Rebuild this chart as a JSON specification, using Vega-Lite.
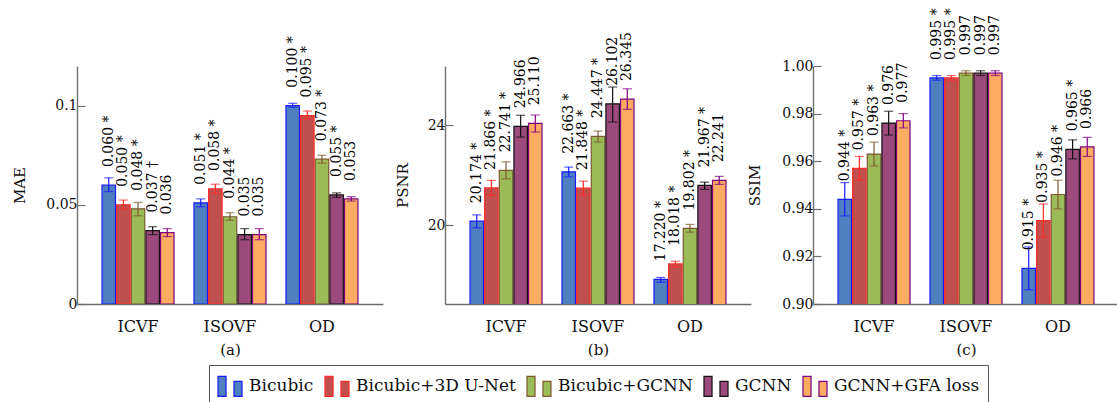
{
  "$schema": "https://vega.github.io/schema/vega-lite/v6.json",
  "background": "white",
  "padding": {"left": 12, "top": 8, "right": 0, "bottom": 0},
  "bounds": "flush",
  "spacing": 62,
  "datasets": {
    "rows": [
      {"metric": "MAE", "region": "ICVF", "method": "Bicubic", "value": 0.060, "lo": 0.0567, "hi": 0.0636, "label": "0.060 *"},
      {"metric": "MAE", "region": "ICVF", "method": "Bicubic+3D U-Net", "value": 0.050, "lo": 0.0478, "hi": 0.0524, "label": "0.050 *"},
      {"metric": "MAE", "region": "ICVF", "method": "Bicubic+GCNN", "value": 0.048, "lo": 0.0445, "hi": 0.0512, "label": "0.048 *"},
      {"metric": "MAE", "region": "ICVF", "method": "GCNN", "value": 0.037, "lo": 0.035, "hi": 0.039, "label": "0.037 †"},
      {"metric": "MAE", "region": "ICVF", "method": "GCNN+GFA loss", "value": 0.036, "lo": 0.034, "hi": 0.038, "label": "0.036"},
      {"metric": "MAE", "region": "ISOVF", "method": "Bicubic", "value": 0.051, "lo": 0.049, "hi": 0.053, "label": "0.051 *"},
      {"metric": "MAE", "region": "ISOVF", "method": "Bicubic+3D U-Net", "value": 0.058, "lo": 0.0558, "hi": 0.0604, "label": "0.058 *"},
      {"metric": "MAE", "region": "ISOVF", "method": "Bicubic+GCNN", "value": 0.044, "lo": 0.0422, "hi": 0.046, "label": "0.044 *"},
      {"metric": "MAE", "region": "ISOVF", "method": "GCNN", "value": 0.035, "lo": 0.0324, "hi": 0.038, "label": "0.035"},
      {"metric": "MAE", "region": "ISOVF", "method": "GCNN+GFA loss", "value": 0.035, "lo": 0.0324, "hi": 0.038, "label": "0.035"},
      {"metric": "MAE", "region": "OD", "method": "Bicubic", "value": 0.100, "lo": 0.0992, "hi": 0.1012, "label": "0.100 *"},
      {"metric": "MAE", "region": "OD", "method": "Bicubic+3D U-Net", "value": 0.095, "lo": 0.0934, "hi": 0.0973, "label": "0.095 *"},
      {"metric": "MAE", "region": "OD", "method": "Bicubic+GCNN", "value": 0.073, "lo": 0.071, "hi": 0.075, "label": "0.073 *"},
      {"metric": "MAE", "region": "OD", "method": "GCNN", "value": 0.055, "lo": 0.0538, "hi": 0.056, "label": "0.055 *"},
      {"metric": "MAE", "region": "OD", "method": "GCNN+GFA loss", "value": 0.053, "lo": 0.0519, "hi": 0.0541, "label": "0.053"},
      {"metric": "PSNR", "region": "ICVF", "method": "Bicubic", "value": 20.16, "lo": 19.89, "hi": 20.41, "label": "20.174 *"},
      {"metric": "PSNR", "region": "ICVF", "method": "Bicubic+3D U-Net", "value": 21.49, "lo": 21.19, "hi": 21.79, "label": "21.866 *"},
      {"metric": "PSNR", "region": "ICVF", "method": "Bicubic+GCNN", "value": 22.19, "lo": 21.85, "hi": 22.53, "label": "22.741 *"},
      {"metric": "PSNR", "region": "ICVF", "method": "GCNN", "value": 23.95, "lo": 23.52, "hi": 24.39, "label": "24.966"},
      {"metric": "PSNR", "region": "ICVF", "method": "GCNN+GFA loss", "value": 24.07, "lo": 23.72, "hi": 24.40, "label": "25.110"},
      {"metric": "PSNR", "region": "ISOVF", "method": "Bicubic", "value": 22.13, "lo": 21.93, "hi": 22.32, "label": "22.663 *"},
      {"metric": "PSNR", "region": "ISOVF", "method": "Bicubic+3D U-Net", "value": 21.48, "lo": 21.19, "hi": 21.76, "label": "21.848 *"},
      {"metric": "PSNR", "region": "ISOVF", "method": "Bicubic+GCNN", "value": 23.55, "lo": 23.32, "hi": 23.76, "label": "24.447 *"},
      {"metric": "PSNR", "region": "ISOVF", "method": "GCNN", "value": 24.85, "lo": 24.12, "hi": 25.52, "label": "26.102"},
      {"metric": "PSNR", "region": "ISOVF", "method": "GCNN+GFA loss", "value": 25.04, "lo": 24.63, "hi": 25.45, "label": "26.345"},
      {"metric": "PSNR", "region": "OD", "method": "Bicubic", "value": 17.83, "lo": 17.72, "hi": 17.91, "label": "17.220 *"},
      {"metric": "PSNR", "region": "OD", "method": "Bicubic+3D U-Net", "value": 18.45, "lo": 18.33, "hi": 18.56, "label": "18.018 *"},
      {"metric": "PSNR", "region": "OD", "method": "Bicubic+GCNN", "value": 19.87, "lo": 19.72, "hi": 20.03, "label": "19.802 *"},
      {"metric": "PSNR", "region": "OD", "method": "GCNN", "value": 21.59, "lo": 21.43, "hi": 21.72, "label": "21.967 *"},
      {"metric": "PSNR", "region": "OD", "method": "GCNN+GFA loss", "value": 21.79, "lo": 21.63, "hi": 21.95, "label": "22.241"},
      {"metric": "SSIM", "region": "ICVF", "method": "Bicubic", "value": 0.944, "lo": 0.937, "hi": 0.951, "label": "0.944 *"},
      {"metric": "SSIM", "region": "ICVF", "method": "Bicubic+3D U-Net", "value": 0.957, "lo": 0.952, "hi": 0.962, "label": "0.957 *"},
      {"metric": "SSIM", "region": "ICVF", "method": "Bicubic+GCNN", "value": 0.963, "lo": 0.958, "hi": 0.968, "label": "0.963 *"},
      {"metric": "SSIM", "region": "ICVF", "method": "GCNN", "value": 0.976, "lo": 0.971, "hi": 0.981, "label": "0.976"},
      {"metric": "SSIM", "region": "ICVF", "method": "GCNN+GFA loss", "value": 0.977, "lo": 0.974, "hi": 0.980, "label": "0.977"},
      {"metric": "SSIM", "region": "ISOVF", "method": "Bicubic", "value": 0.995, "lo": 0.994, "hi": 0.996, "label": "0.995 *"},
      {"metric": "SSIM", "region": "ISOVF", "method": "Bicubic+3D U-Net", "value": 0.995, "lo": 0.994, "hi": 0.996, "label": "0.995 *"},
      {"metric": "SSIM", "region": "ISOVF", "method": "Bicubic+GCNN", "value": 0.997, "lo": 0.996, "hi": 0.998, "label": "0.997"},
      {"metric": "SSIM", "region": "ISOVF", "method": "GCNN", "value": 0.997, "lo": 0.996, "hi": 0.998, "label": "0.997"},
      {"metric": "SSIM", "region": "ISOVF", "method": "GCNN+GFA loss", "value": 0.997, "lo": 0.996, "hi": 0.998, "label": "0.997"},
      {"metric": "SSIM", "region": "OD", "method": "Bicubic", "value": 0.915, "lo": 0.906, "hi": 0.924, "label": "0.915 *"},
      {"metric": "SSIM", "region": "OD", "method": "Bicubic+3D U-Net", "value": 0.935, "lo": 0.928, "hi": 0.942, "label": "0.935 *"},
      {"metric": "SSIM", "region": "OD", "method": "Bicubic+GCNN", "value": 0.946, "lo": 0.940, "hi": 0.952, "label": "0.946 *"},
      {"metric": "SSIM", "region": "OD", "method": "GCNN", "value": 0.965, "lo": 0.961, "hi": 0.969, "label": "0.965 *"},
      {"metric": "SSIM", "region": "OD", "method": "GCNN+GFA loss", "value": 0.966, "lo": 0.962, "hi": 0.970, "label": "0.966"}
    ]
  },
  "data": {"name": "rows"},
  "hconcat": [
    {
      "width": 306, "height": 238,
      "transform": [{"filter": "datum.metric == 'MAE'"}],
      "encoding": {
        "x": {"field": "region", "type": "nominal", "sort": ["ICVF", "ISOVF", "OD"],
              "scale": {"paddingInner": 0.217, "paddingOuter": 0.272},
              "axis": {"title": "(a)", "labelAngle": 0, "ticks": false, "labelPadding": 14, "titlePadding": 8}},
        "xOffset": {"field": "method", "type": "nominal", "sort": ["Bicubic", "Bicubic+3D U-Net", "Bicubic+GCNN", "GCNN", "GCNN+GFA loss"], "scale": {"paddingInner": 0.08}}
      },
      "layer": [
        {"mark": {"type": "bar", "strokeWidth": 1.2, "clip": true},
         "encoding": {
           "y": {"field": "value", "type": "quantitative", "scale": {"domain": [0, 0.12], "nice": false},
                 "axis": {"title": "MAE", "values": [0, 0.05, 0.1], "format": ".2~f", "minExtent": 50, "maxExtent": 50, "titlePadding": 0}},
           "fill": {"field": "method", "type": "nominal", "scale": {"range": ["#4f7fbf", "#c0504d", "#9bbb59", "#9b4a7b", "#fbac62"]}},
           "stroke": {"field": "method", "type": "nominal", "scale": {"range": ["#1a1aff", "#ff2a2a", "#7d5a30", "#111111", "#800080"]}}
         }},
        {"mark": {"type": "rule", "strokeWidth": 1.2},
         "encoding": {"y": {"field": "lo", "type": "quantitative"}, "y2": {"field": "hi"},
                      "color": {"field": "method", "type": "nominal", "legend": null, "scale": {"domain": ["Bicubic", "Bicubic+3D U-Net", "Bicubic+GCNN", "GCNN", "GCNN+GFA loss"], "range": ["#1a1aff", "#ff2a2a", "#7d5a30", "#111111", "#800080"]}}}},
        {"mark": {"type": "tick", "thickness": 1.2, "size": 9},
         "encoding": {"y": {"field": "lo", "type": "quantitative"}, "color": {"field": "method", "type": "nominal", "legend": null}}},
        {"mark": {"type": "tick", "thickness": 1.2, "size": 9},
         "encoding": {"y": {"field": "hi", "type": "quantitative"}, "color": {"field": "method", "type": "nominal", "legend": null}}},
        {"mark": {"type": "text", "angle": 270, "align": "left", "baseline": "middle", "dx": 18, "font": "DejaVu Serif", "fontSize": 14, "color": "#000"},
         "encoding": {"y": {"field": "value", "type": "quantitative"}, "text": {"field": "label"}}}
      ]
    },
    {
      "width": 306, "height": 238,
      "transform": [{"filter": "datum.metric == 'PSNR'"}],
      "encoding": {
        "x": {"field": "region", "type": "nominal", "sort": ["ICVF", "ISOVF", "OD"],
              "scale": {"paddingInner": 0.217, "paddingOuter": 0.272},
              "axis": {"title": "(b)", "labelAngle": 0, "ticks": false, "labelPadding": 14, "titlePadding": 8}},
        "xOffset": {"field": "method", "type": "nominal", "sort": ["Bicubic", "Bicubic+3D U-Net", "Bicubic+GCNN", "GCNN", "GCNN+GFA loss"], "scale": {"paddingInner": 0.08}}
      },
      "layer": [
        {"mark": {"type": "bar", "strokeWidth": 1.2, "clip": true},
         "encoding": {
           "y": {"field": "value", "type": "quantitative", "scale": {"domain": [16.85, 26.36], "nice": false, "zero": false},
                 "axis": {"title": "PSNR", "values": [20, 24], "minExtent": 35, "maxExtent": 35, "titlePadding": 0}},
           "fill": {"field": "method", "type": "nominal"},
           "stroke": {"field": "method", "type": "nominal"}
         }},
        {"mark": {"type": "rule", "strokeWidth": 1.2},
         "encoding": {"y": {"field": "lo", "type": "quantitative"}, "y2": {"field": "hi"},
                      "color": {"field": "method", "type": "nominal", "legend": null}}},
        {"mark": {"type": "tick", "thickness": 1.2, "size": 9},
         "encoding": {"y": {"field": "lo", "type": "quantitative"}, "color": {"field": "method", "type": "nominal", "legend": null}}},
        {"mark": {"type": "tick", "thickness": 1.2, "size": 9},
         "encoding": {"y": {"field": "hi", "type": "quantitative"}, "color": {"field": "method", "type": "nominal", "legend": null}}},
        {"mark": {"type": "text", "angle": 270, "align": "left", "baseline": "middle", "dx": 18, "font": "DejaVu Serif", "fontSize": 14, "color": "#000"},
         "encoding": {"y": {"field": "value", "type": "quantitative"}, "text": {"field": "label"}}}
      ]
    },
    {
      "width": 306, "height": 238,
      "transform": [{"filter": "datum.metric == 'SSIM'"}],
      "encoding": {
        "x": {"field": "region", "type": "nominal", "sort": ["ICVF", "ISOVF", "OD"],
              "scale": {"paddingInner": 0.217, "paddingOuter": 0.272},
              "axis": {"title": "(c)", "labelAngle": 0, "ticks": false, "labelPadding": 14, "titlePadding": 8}},
        "xOffset": {"field": "method", "type": "nominal", "sort": ["Bicubic", "Bicubic+3D U-Net", "Bicubic+GCNN", "GCNN", "GCNN+GFA loss"], "scale": {"paddingInner": 0.08}}
      },
      "layer": [
        {"mark": {"type": "bar", "strokeWidth": 1.2, "clip": true},
         "encoding": {
           "y": {"field": "value", "type": "quantitative", "scale": {"domain": [0.9, 1.0], "nice": false, "zero": false},
                 "axis": {"title": "SSIM", "values": [0.9, 0.92, 0.94, 0.96, 0.98, 1.0], "format": ".2f", "minExtent": 51, "maxExtent": 51, "titlePadding": 0}},
           "fill": {"field": "method", "type": "nominal"},
           "stroke": {"field": "method", "type": "nominal"}
         }},
        {"mark": {"type": "rule", "strokeWidth": 1.2},
         "encoding": {"y": {"field": "lo", "type": "quantitative"}, "y2": {"field": "hi"},
                      "color": {"field": "method", "type": "nominal", "legend": null}}},
        {"mark": {"type": "tick", "thickness": 1.2, "size": 9},
         "encoding": {"y": {"field": "lo", "type": "quantitative"}, "color": {"field": "method", "type": "nominal", "legend": null}}},
        {"mark": {"type": "tick", "thickness": 1.2, "size": 9},
         "encoding": {"y": {"field": "hi", "type": "quantitative"}, "color": {"field": "method", "type": "nominal", "legend": null}}},
        {"mark": {"type": "text", "angle": 270, "align": "left", "baseline": "middle", "dx": 18, "font": "DejaVu Serif", "fontSize": 14, "color": "#000"},
         "encoding": {"y": {"field": "value", "type": "quantitative"}, "text": {"field": "label"}}}
      ]
    }
  ],
  "resolve": {"scale": {"fill": "shared", "stroke": "shared", "color": "shared"}},
  "config": {
    "view": {"stroke": null},
    "font": "DejaVu Serif",
    "axis": {
      "grid": false, "domainColor": "#6e6e6e", "domainWidth": 1.4, "tickColor": "#6e6e6e", "tickWidth": 1.2,
      "labelFont": "DejaVu Serif", "titleFont": "DejaVu Serif", "labelColor": "#111", "titleColor": "#111",
      "titleFontWeight": "normal"
    },
    "axisY": {"tickSize": -8, "labelPadding": 8, "labelFontSize": 14, "titleFontSize": 15},
    "axisX": {"labelFontSize": 16, "titleFontSize": 15},
    "legend": {
      "orient": "none", "legendX": 132, "legendY": 299, "direction": "horizontal",
      "title": null, "strokeColor": "#555", "padding": 8,
      "symbolType": "M-1,-0.83H-0.33V0.83H-1Z M0.33,-0.42H1V0.83H0.33Z",
      "symbolSize": 576, "symbolStrokeWidth": 1.2, "symbolOpacity": 1,
      "labelFont": "DejaVu Serif", "labelFontSize": 17, "labelColor": "#111", "labelLimit": 400,
      "labelOffset": 6, "columnPadding": 8
    }
  }
}
